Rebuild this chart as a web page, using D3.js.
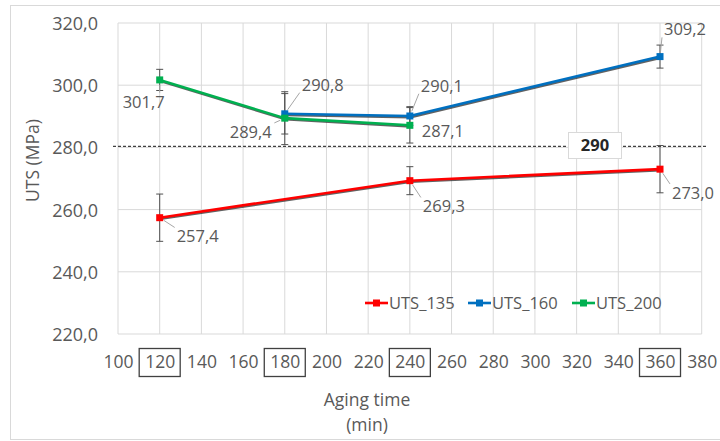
<!DOCTYPE html>
<html><head><meta charset="utf-8">
<script src="https://cdn.jsdelivr.net/npm/d3@7"></script>
<style>
body{margin:0;background:#fff;}
svg text{font-family:"Open Sans",sans-serif;}
</style></head>
<body><svg id="c" width="720" height="441"></svg>
<script>
// ---- data ----
const agingTimes = [120, 180, 240, 360];
const seriesNames = ["UTS_135", "UTS_160", "UTS_200"];
const uts135 = [[120, 257.4], [240, 269.3], [360, 273.0]];
const uts160 = [[180, 290.8], [240, 290.1], [360, 309.2]];
const uts200 = [[120, 301.7], [180, 289.4], [240, 287.1]];
const err135 = [7.6, 4.5, 7.6];
const err160 = [6.5, 3.0, 3.7];
const err200 = [3.4, 8.5, 5.7];
const xTicks = [100, 120, 140, 160, 180, 200, 220, 240, 260, 280, 300, 320, 340, 360, 380];
const yTicks = [220, 240, 260, 280, 300, 320];
const refLineValue = 280.3;
const refLineLabel = "290";

// ---- layout / style (not data) ----
const colors = ["#ff0000", "#0070c0", "#00b050"];
const labelOffsets = [
  [[38, 19], [34, 26], [33, 24]],
  [[38, -29], [32, -30], [25, -27]],
  [[-16, 22], [-34, 14], [33, 6]]
];

const svg = d3.select("#c");
const x = d3.scaleLinear().domain([100, 380]).range([118, 701.7]);
const y = d3.scaleLinear().domain([220, 320]).range([334, 23]);
const fmt = v => d3.format(".1f")(v).replace(".", ",");
const grey = "#595959";

// outer border
svg.append("rect").attr("x", 10.5).attr("y", 5.5).attr("width", 740).attr("height", 434)
  .attr("fill", "none").attr("stroke", "#d9d9d9");

// gridlines
svg.append("g").selectAll("line").data(xTicks).join("line")
  .attr("x1", d => x(d)).attr("x2", d => x(d)).attr("y1", y(320)).attr("y2", y(220))
  .attr("stroke", "#d9d9d9").attr("stroke-width", 1);
svg.append("g").selectAll("line").data(yTicks).join("line")
  .attr("x1", x(100)).attr("x2", x(380)).attr("y1", d => y(d)).attr("y2", d => y(d))
  .attr("stroke", "#d9d9d9").attr("stroke-width", 1);

// axes labels via d3 axis
const xAxis = svg.append("g").attr("transform", `translate(0,${y(220)})`)
  .call(d3.axisBottom(x).tickValues(xTicks).tickSize(0).tickFormat(d3.format("d")));
xAxis.select(".domain").remove();
xAxis.selectAll("text").attr("fill", grey).attr("font-size", 17.5).attr("y", 28).attr("dy", "0.35em");
const yAxis = svg.append("g").attr("transform", `translate(${x(100)},0)`)
  .call(d3.axisLeft(y).tickValues(yTicks).tickSize(0).tickPadding(20).tickFormat(fmt));
yAxis.select(".domain").remove();
yAxis.selectAll("text").attr("fill", grey).attr("font-size", 18).attr("dy", "0.36em");

// boxes around aging times
svg.append("g").selectAll("rect").data(agingTimes).join("rect")
  .attr("x", d => x(d) - 20.5).attr("y", 348.5).attr("width", 41).attr("height", 28)
  .attr("fill", "none").attr("stroke", "#404040").attr("stroke-width", 1.3);

// axis titles
svg.append("text").attr("x", 367).attr("y", 400).attr("dy", "0.35em").attr("text-anchor", "middle")
  .attr("fill", grey).attr("font-size", 17.5).text("Aging time");
svg.append("text").attr("x", 367).attr("y", 425).attr("dy", "0.35em").attr("text-anchor", "middle")
  .attr("fill", grey).attr("font-size", 17.5).text("(min)");
svg.append("text").attr("transform", "translate(33,160.5) rotate(-90)").attr("dy", "0.35em")
  .attr("text-anchor", "middle").attr("fill", grey).attr("font-size", 17.5).text("UTS (MPa)");

// reference dashed line
svg.append("line").attr("x1", 113).attr("x2", 707).attr("y1", y(refLineValue)).attr("y2", y(refLineValue))
  .attr("stroke", "#404040").attr("stroke-width", 1.3).attr("stroke-dasharray", "3,2");

const allSeries = [uts135, uts160, uts200];
const allErr = [err135, err160, err200];
const line = d3.line().x(d => x(d[0])).y(d => y(d[1]));

// error bars
allSeries.forEach((s, i) => {
  const g = svg.append("g");
  s.forEach((d, j) => {
    const e = allErr[i][j], cx = x(d[0]);
    g.append("line").attr("x1", cx).attr("x2", cx).attr("y1", y(d[1] + e)).attr("y2", y(d[1] - e))
      .attr("stroke", "#505050").attr("stroke-width", 1);
    [d[1] + e, d[1] - e].forEach(v => g.append("line").attr("x1", cx - 3.5).attr("x2", cx + 3.5)
      .attr("y1", y(v)).attr("y2", y(v)).attr("stroke", "#505050").attr("stroke-width", 1));
  });
});

// lines with shadow
allSeries.forEach((s, i) => {
  svg.append("path").datum(s).attr("d", line).attr("fill", "none")
    .attr("stroke", "#202020").attr("stroke-opacity", 0.7).attr("stroke-width", 2.4)
    .attr("transform", "translate(0.8,1.2)");
  svg.append("path").datum(s).attr("d", line).attr("fill", "none")
    .attr("stroke", colors[i]).attr("stroke-width", 2.6);
  svg.append("g").selectAll("rect").data(s).join("rect")
    .attr("x", d => x(d[0]) - 3.5).attr("y", d => y(d[1]) - 3.5).attr("width", 7).attr("height", 7)
    .attr("fill", colors[i]);
});

// data labels with leader lines
allSeries.forEach((s, i) => {
  s.forEach((d, j) => {
    const px = x(d[0]), py = y(d[1]);
    const [dx, dy] = labelOffsets[i][j];
    const t = svg.append("text").attr("x", px + dx).attr("y", py + dy).attr("dy", "0.35em")
      .attr("text-anchor", "middle").attr("fill", grey).attr("font-size", 16.5).text(fmt(d[1]));
    const b = t.node().getBBox();
    const ex = Math.max(b.x - 2, Math.min(px, b.x + b.width + 2));
    const ey = Math.max(b.y + 3, Math.min(py, b.y + b.height - 3));
    const len = Math.hypot(ex - px, ey - py);
    if (len > 10) {
      const sx = px + (ex - px) * 5 / len, sy = py + (ey - py) * 5 / len;
      svg.append("line").attr("x1", sx).attr("y1", sy).attr("x2", ex).attr("y2", ey)
        .attr("stroke", "#a6a6a6").attr("stroke-width", 1);
    }
  });
});

// ref label box
const rb = svg.append("g");
rb.append("rect").attr("x", 568.5).attr("y", 132.5).attr("width", 53).attr("height", 26)
  .attr("fill", "#fff").attr("stroke", "#d9d9d9");
rb.append("text").attr("x", 595).attr("y", 145.5).attr("dy", "0.35em").attr("text-anchor", "middle")
  .attr("fill", "#262626").attr("font-size", 16.5).attr("font-weight", "bold").text(refLineLabel);

// legend
const legX = [365, 468, 572];
seriesNames.forEach((n, i) => {
  const g = svg.append("g").attr("transform", `translate(${legX[i]},303)`);
  g.append("line").attr("x1", 0).attr("x2", 23).attr("y1", 0).attr("y2", 0)
    .attr("stroke", colors[i]).attr("stroke-width", 2.6);
  g.append("rect").attr("x", 8).attr("y", -3.5).attr("width", 7).attr("height", 7).attr("fill", colors[i]);
  g.append("text").attr("x", 24).attr("y", 0).attr("dy", "0.35em").attr("fill", grey)
    .attr("font-size", 16.5).text(n);
});
</script></body></html>
